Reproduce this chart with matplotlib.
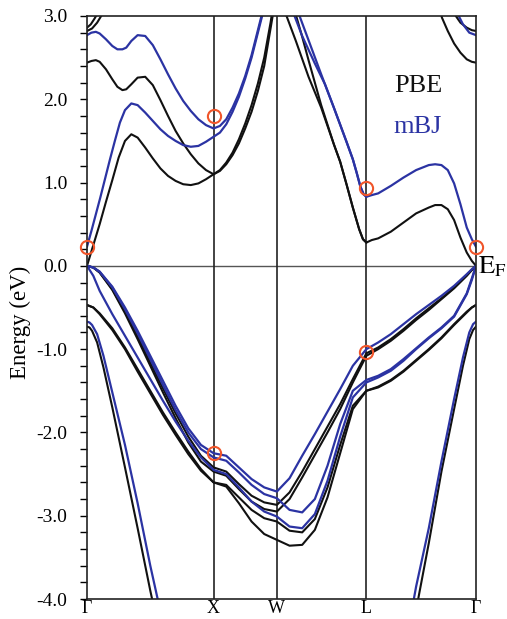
import matplotlib
matplotlib.use('Agg')
import matplotlib.pyplot as plt
from matplotlib.ticker import MultipleLocator, FormatStrFormatter

# high-symmetry points along the path (units of 2pi/a)
kpts = [0.0, 1.0, 1.5, 2.207, 3.073]
klabels = ['Γ', 'X', 'W', 'L', 'Γ']

# shared k grid for the upper valence bands
k_val = [0, 0.05, 0.1, 0.2, 0.3, 0.4, 0.5, 0.6, 0.7, 0.8, 0.9, 1.0,
         1.1, 1.2, 1.3, 1.4, 1.5,
         1.6, 1.7, 1.8, 1.9, 2.0, 2.1, 2.207,
         2.3, 2.4, 2.5, 2.6, 2.7, 2.8, 2.9, 3.0, 3.04, 3.073]

# PBE valence bands (eV)
pbe_v1 = [0, -0.02, -0.08, -0.28, -0.55, -0.85, -1.16, -1.47, -1.77, -2.05, -2.28, -2.42,
          -2.47, -2.62, -2.76, -2.84, -2.87,
          -2.72, -2.47, -2.2, -1.93, -1.66, -1.36, -1.05,
          -0.98, -0.88, -0.76, -0.63, -0.51, -0.39, -0.26, -0.11, -0.05, 0]
pbe_v2 = [0, -0.02, -0.08, -0.29, -0.57, -0.88, -1.2, -1.52, -1.83, -2.12, -2.35, -2.47,
          -2.52, -2.68, -2.83, -2.92, -2.95,
          -2.8, -2.54, -2.27, -2.0, -1.72, -1.4, -1.08,
          -1.0, -0.9, -0.78, -0.65, -0.53, -0.4, -0.27, -0.12, -0.05, 0]
pbe_v3 = [-0.47, -0.5, -0.57, -0.75, -0.98, -1.24, -1.5, -1.76, -2.0, -2.23, -2.44, -2.6,
          -2.63, -2.78, -2.93, -3.03, -3.07,
          -3.18, -3.2, -3.04, -2.66, -2.15, -1.68, -1.5,
          -1.45, -1.37, -1.26, -1.13, -1.0, -0.86, -0.7, -0.55, -0.5, -0.47]
pbe_v4 = [-0.47, -0.5, -0.58, -0.77, -1.0, -1.27, -1.53, -1.79, -2.03, -2.26, -2.46, -2.6,
          -2.65, -2.85, -3.07, -3.22, -3.29,
          -3.36, -3.35, -3.17, -2.78, -2.25, -1.72, -1.5,
          -1.46, -1.38, -1.27, -1.14, -1.01, -0.87, -0.71, -0.56, -0.5, -0.47]

# mBJ valence bands (eV)
mbj_v1 = [0, -0.02, -0.07, -0.25, -0.5, -0.78, -1.08, -1.38, -1.68, -1.95, -2.15, -2.25,
          -2.28, -2.42, -2.56, -2.66, -2.71,
          -2.55, -2.28, -2.02, -1.75, -1.48, -1.2, -1.0,
          -0.92, -0.82, -0.7, -0.58, -0.47, -0.36, -0.24, -0.1, -0.04, 0]
mbj_v2 = [0, -0.02, -0.07, -0.26, -0.52, -0.81, -1.12, -1.43, -1.73, -2.0, -2.2, -2.3,
          -2.34, -2.48, -2.63, -2.74, -2.79,
          -2.93, -2.96, -2.8, -2.4, -1.9, -1.5, -1.37,
          -1.32, -1.24, -1.12, -0.99, -0.86, -0.74, -0.6, -0.33, -0.15, 0]
mbj_v3 = [0, -0.12, -0.3, -0.58, -0.84, -1.1, -1.36, -1.62, -1.87, -2.1, -2.3, -2.45,
          -2.5, -2.66, -2.83, -2.95, -3.01,
          -3.13, -3.15, -2.98, -2.58, -2.05, -1.58, -1.4,
          -1.34, -1.26, -1.14, -1.0, -0.87, -0.75, -0.61, -0.34, -0.17, 0]

# steep lower valence band
pbe_s1_k = [0, 0.02, 0.04, 0.08, 0.13, 0.2, 0.3, 0.4, 0.5, 0.55]
pbe_s1_e = [-0.73, -0.74, -0.78, -0.92, -1.22, -1.7, -2.42, -3.15, -3.9, -4.25]
pbe_s2_k = [2.6, 2.62, 2.7, 2.8, 2.9, 2.97, 3.02, 3.05, 3.073]
pbe_s2_e = [-4.15, -3.97, -3.33, -2.47, -1.72, -1.2, -0.88, -0.77, -0.73]
mbj_s1_k = [0, 0.02, 0.04, 0.08, 0.13, 0.2, 0.3, 0.4, 0.5, 0.58]
mbj_s1_e = [-0.67, -0.68, -0.71, -0.82, -1.08, -1.52, -2.15, -2.85, -3.6, -4.15]
mbj_s2_k = [2.57, 2.6, 2.7, 2.8, 2.9, 2.97, 3.02, 3.05, 3.073]
mbj_s2_e = [-4.1, -3.85, -3.15, -2.35, -1.6, -1.1, -0.8, -0.7, -0.67]

# PBE conduction bands
pbe_c1_k = [0, 0.05, 0.1, 0.15, 0.2, 0.25, 0.3, 0.35, 0.4, 0.46, 0.52, 0.58, 0.64, 0.7,
            0.76, 0.82, 0.88, 0.94, 1.0,
            1.05, 1.1, 1.15, 1.2, 1.25, 1.3, 1.35, 1.4, 1.45, 1.5,
            1.564, 1.65, 1.75, 1.85, 1.95, 2.0, 2.05, 2.1, 2.15, 2.18, 2.207,
            2.25, 2.3, 2.4, 2.5, 2.6, 2.7, 2.75, 2.8, 2.85, 2.9, 2.95, 3.0, 3.04, 3.073]
pbe_c1_e = [0.0, 0.25, 0.5, 0.77, 1.03, 1.3, 1.5, 1.58, 1.54, 1.42, 1.29, 1.17, 1.08, 1.02,
            0.98, 0.97, 0.99, 1.04, 1.1,
            1.14, 1.22, 1.33, 1.47, 1.65, 1.85, 2.1, 2.4, 2.85, 3.3,
            3.05, 2.7, 2.27, 1.9, 1.46, 1.25, 0.98, 0.7, 0.44, 0.32, 0.28,
            0.31, 0.33, 0.41, 0.52, 0.63, 0.7, 0.73, 0.73, 0.68, 0.55, 0.34, 0.16, 0.06, 0.0]
pbe_c2_k = [0, 0.035, 0.07, 0.1, 0.15, 0.2, 0.24, 0.28, 0.31, 0.35, 0.4, 0.46, 0.52, 0.58,
            0.64, 0.7, 0.76, 0.82, 0.88, 0.94, 1.0,
            1.05, 1.1, 1.15, 1.2, 1.25, 1.3, 1.35, 1.4, 1.45, 1.5,
            1.6, 1.643, 1.7, 1.75, 1.8, 1.85, 1.95, 2.0, 2.05, 2.1, 2.15, 2.18, 2.207]
pbe_c2_e = [2.44, 2.46, 2.47, 2.45, 2.36, 2.24, 2.15, 2.11, 2.12, 2.18, 2.26, 2.27, 2.17, 1.99,
            1.8, 1.62, 1.47, 1.34, 1.23, 1.15, 1.1,
            1.15, 1.24, 1.36, 1.52, 1.71, 1.93, 2.19, 2.5, 2.92, 3.4,
            3.25, 3.05, 2.75, 2.47, 2.2, 1.93, 1.46, 1.25, 0.98, 0.7, 0.44, 0.32, 0.28]
pbe_c3_k = [0, 0.04, 0.08, 0.12, 0.15]
pbe_c3_e = [2.82, 2.85, 2.92, 3.02, 3.1]
pbe_c4_k = [0, 0.03, 0.06, 0.09, 0.12]
pbe_c4_e = [2.86, 2.9, 2.97, 3.05, 3.12]
pbe_c5_k = [2.78, 2.804, 2.85, 2.9, 2.95, 3.0, 3.04, 3.073]
pbe_c5_e = [3.1, 2.98, 2.82, 2.67, 2.56, 2.48, 2.45, 2.44]
pbe_c6_k = [2.86, 2.891, 2.95, 3.0, 3.04, 3.073]
pbe_c6_e = [3.15, 3.05, 2.92, 2.86, 2.83, 2.82]

# mBJ conduction bands
mbj_c1_k = [0, 0.035, 0.07, 0.105, 0.14, 0.18, 0.22, 0.26, 0.3, 0.35, 0.4, 0.46, 0.52, 0.58,
            0.64, 0.7, 0.76, 0.82, 0.88, 0.94, 1.0,
            1.05, 1.1, 1.15, 1.2, 1.25, 1.3, 1.35, 1.4, 1.5,
            1.6, 1.667, 1.75, 1.85, 1.95, 2.05, 2.1, 2.13, 2.16, 2.185, 2.207,
            2.25, 2.3, 2.4, 2.5, 2.6, 2.7, 2.75, 2.8, 2.85, 2.9, 2.95, 3.0, 3.04, 3.073]
mbj_c1_e = [0.23, 0.42, 0.62, 0.82, 1.03, 1.27, 1.5, 1.72, 1.87, 1.95, 1.93, 1.84, 1.74, 1.64,
            1.56, 1.5, 1.45, 1.43, 1.44, 1.49, 1.55,
            1.6, 1.7, 1.85, 2.03, 2.25, 2.5, 2.8, 3.1, 3.7,
            3.3, 3.05, 2.71, 2.3, 1.9, 1.49, 1.28, 1.12, 0.95, 0.86, 0.83,
            0.85, 0.87, 0.96, 1.06, 1.15, 1.21, 1.22, 1.21, 1.15, 0.99, 0.74, 0.46, 0.32, 0.23]
mbj_c2_k = [0, 0.035, 0.07, 0.1, 0.15, 0.2, 0.24, 0.28, 0.31, 0.35, 0.4, 0.46, 0.52, 0.58,
            0.64, 0.7, 0.76, 0.82, 0.88, 0.94, 1.0,
            1.05, 1.1, 1.15, 1.2, 1.25, 1.3, 1.35, 1.4, 1.5,
            1.627, 1.7, 1.8, 1.88, 1.95, 2.05, 2.1, 2.13, 2.16, 2.185, 2.207]
mbj_c2_e = [2.77, 2.8, 2.81, 2.79, 2.72, 2.64, 2.6, 2.6, 2.62, 2.7, 2.77, 2.76, 2.65, 2.48,
            2.3, 2.13, 1.98, 1.86, 1.76, 1.69, 1.65,
            1.68, 1.76, 1.9, 2.07, 2.28, 2.53, 2.83, 3.13, 3.7,
            3.05, 2.76, 2.43, 2.18, 1.9, 1.49, 1.28, 1.12, 0.95, 0.86, 0.83]
mbj_c3_k = [2.89, 2.92, 2.97, 3.02, 3.073]
mbj_c3_e = [3.15, 3.05, 2.9, 2.8, 2.77]

# highlighted states (red circles)
mark_k = [0.0, 1.0, 1.0, 2.207, 2.207, 3.073]
mark_e = [0.23, 1.8, -2.25, 0.93, -1.03, 0.23]

pbe_color = '#111111'
mbj_color = '#2b33a3'

plt.rcParams['font.family'] = ['Liberation Serif', 'DejaVu Serif']
plt.rcParams['mathtext.fontset'] = 'stix'
plt.rcParams['axes.unicode_minus'] = False

fig = plt.figure(figsize=(5.07, 6.19), dpi=100)
ax = fig.add_axes([87 / 507, 20 / 619, 389 / 507, 583 / 619])

pbe_bands = [(k_val, pbe_v1), (k_val, pbe_v2), (k_val, pbe_v3), (k_val, pbe_v4),
             (pbe_s1_k, pbe_s1_e), (pbe_s2_k, pbe_s2_e),
             (pbe_c1_k, pbe_c1_e), (pbe_c2_k, pbe_c2_e), (pbe_c3_k, pbe_c3_e),
             (pbe_c4_k, pbe_c4_e), (pbe_c5_k, pbe_c5_e), (pbe_c6_k, pbe_c6_e)]
mbj_bands = [(k_val, mbj_v1), (k_val, mbj_v2), (k_val, mbj_v3),
             (mbj_s1_k, mbj_s1_e), (mbj_s2_k, mbj_s2_e),
             (mbj_c1_k, mbj_c1_e), (mbj_c2_k, mbj_c2_e), (mbj_c3_k, mbj_c3_e)]

for k, e in pbe_bands:
    ax.plot(k, e, color=pbe_color, lw=1.5, solid_joinstyle='round')
for k, e in mbj_bands:
    ax.plot(k, e, color=mbj_color, lw=1.6, solid_joinstyle='round')

# Fermi level and high-symmetry lines
ax.axhline(0, color='#555555', lw=1.0, zorder=1)
for kp in kpts[1:-1]:
    ax.axvline(kp, color='#222222', lw=1.2, zorder=1)

ax.plot(mark_k, mark_e, 'o', mfc='none', mec='#f0552a', ms=9.5, mew=1.5,
        clip_on=False, zorder=5)

ax.set_xlim(kpts[0], kpts[-1])
ax.set_ylim(-4.0, 3.0)
ax.set_xticks(kpts)
ax.set_xticklabels(klabels, fontsize=13)
ax.tick_params(axis='x', length=0, pad=1)
ax.yaxis.set_major_locator(MultipleLocator(1.0))
ax.yaxis.set_minor_locator(MultipleLocator(0.2))
ax.yaxis.set_major_formatter(FormatStrFormatter('%.1f'))
ax.tick_params(axis='y', which='both', direction='out', length=5, width=1.0,
               labelsize=14, pad=9)
for s in ax.spines.values():
    s.set_linewidth(1.2)
    s.set_color('#222222')

fig.text(20 / 507, 1 - 322 / 619, 'Energy (eV)', rotation=90, ha='center',
         va='center', fontsize=16.5)
ax.text(2.62, 2.16, 'PBE', fontsize=19, ha='center', va='center', color=pbe_color)
ax.text(2.615, 1.67, 'mBJ', fontsize=19, ha='center', va='center', color=mbj_color)
ax.text(3.085, -0.085, r'$\mathrm{E_F}$', fontsize=19, ha='left', va='baseline',
        clip_on=False)

fig.savefig('out.png', dpi=100)
